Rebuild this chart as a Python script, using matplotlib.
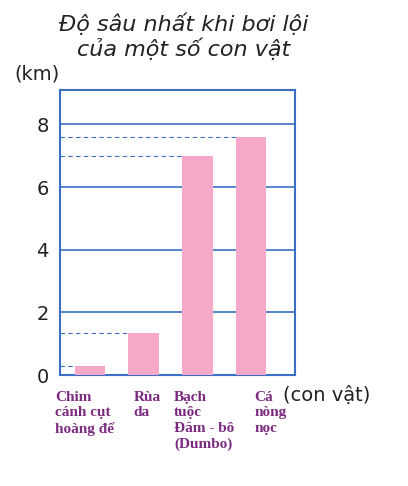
import matplotlib.pyplot as plt

animals = ['Chim\ncánh cụt\nhoàng đế', 'Rùa\nda', 'Bạch\ntuộc\nĐăm - bô\n(Dumbo)', 'Cá\nnòng\nnọc']
depth = [0.3, 1.35, 7.0, 7.6]
yticks = [0, 2, 4, 6, 8]
label_shift = [-0.65, -0.19, -0.43, 0.06]

blue = '#3a6fc4'
pink = '#f4a9c9'
purple = '#7b2a80'

fig = plt.figure(figsize=(4.08, 4.86), dpi=100)
ax = fig.add_axes([0.147, 0.228, 0.576, 0.587])
x = list(range(len(depth)))
ax.bar(x, depth, width=0.57, color=pink, zorder=3)
ax.set_xlim(-0.56, 3.82)
ax.set_ylim(0, 9.1)
for t in yticks[1:]:
    ax.axhline(t, color=blue, lw=1.2, zorder=1)
for i, d in enumerate(depth):
    ax.plot([-0.56, i - 0.285], [d, d], color=blue, lw=0.8, ls=(0, (4, 3)), zorder=2)
for s in ax.spines.values():
    s.set_color(blue)
    s.set_linewidth(1.5)
ax.set_xticks([])
ax.set_yticks(yticks)
ax.tick_params(axis='y', length=0, labelsize=14, labelcolor='#222222', pad=8)

for i, lab in enumerate(animals):
    ax.text(i + label_shift[i], -0.5, lab, ha='left', va='top', fontsize=11, fontweight='bold',
            family='Liberation Serif', color=purple, linespacing=1.25, clip_on=False)

ax.text(-0.56, 9.3, '(km)', ha='right', va='bottom', fontsize=14, color='#222222')
ax.text(3.6, -0.35, '(con vật)', ha='left', va='top', fontsize=14, color='#222222')
fig.text(0.45, 0.975, 'Độ sâu nhất khi bơi lội\ncủa một số con vật', ha='center', va='top',
         fontsize=16, style='italic', color='#222222', linespacing=1.15)

fig.savefig('out.png', dpi=100)
